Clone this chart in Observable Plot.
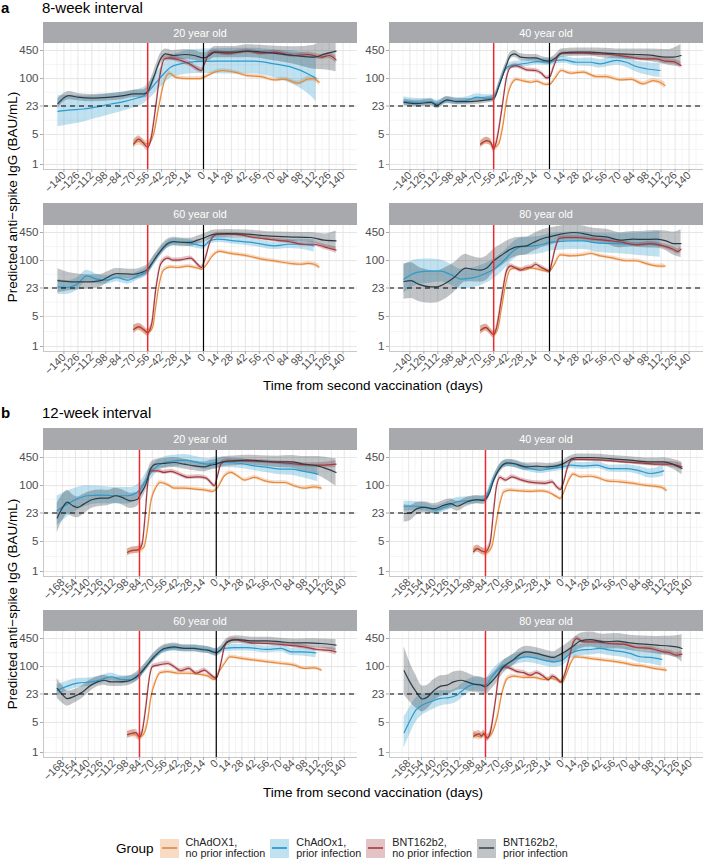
<!DOCTYPE html>
<html><head><meta charset="utf-8">
<script src="https://cdn.jsdelivr.net/npm/d3@7"></script>
<script src="https://cdn.jsdelivr.net/npm/@observablehq/plot@0.6"></script>
<style>
body{margin:0;background:#fff;font-family:"Liberation Sans",Arial,sans-serif;}
#root{position:relative;width:704px;height:861px;overflow:hidden;background:#fff;}
.strip{position:absolute;background:#A7A9AC;color:#fff;font-size:10.8px;display:flex;align-items:center;justify-content:center;}
.ttl{position:absolute;white-space:nowrap;color:#000;}
.pan{position:absolute;}
#legend{position:absolute;left:116px;top:836px;height:24px;display:flex;align-items:center;font-size:10.8px;color:#222;}
.key{width:19px;height:19px;position:relative;margin-right:7px;}
.key i{position:absolute;left:2px;right:2px;top:8.5px;height:2px;}
.lab{line-height:11.5px;margin-right:5px;}
</style></head><body><div id="root"></div>
<script>
// ---------- scales / ticks ----------
const ticksA = [-140,-126,-112,-98,-84,-70,-56,-42,-28,-14,0,14,28,42,56,70,84,98,112,126,140];
const minorA = [-147,-133,-119,-105,-91,-77,-63,-49,-35,-21,-7,7,21,35,49,63,77,91,105,119,133,147];
const ticksB = [-168,-154,-140,-126,-112,-98,-84,-70,-56,-42,-28,-14,0,14,28,42,56,70,84,98,112,126,140];
const minorB = [-175,-161,-147,-133,-119,-105,-91,-77,-63,-49,-35,-21,-7,7,21,35,49,63,77,91,105,119,133,147];
const yTicks = [1,5,23,100,450];
const yMinor = [2.236,10.72,47.96,212.1];
const groups = ["chadNo","chadPrior","bntNo","bntPrior"];
const groupLabels = [["ChAdOX1,","no prior infection"],["ChAdOx1,","prior infection"],["BNT162b2,","no prior infection"],["BNT162b2,","prior infection"]];
const ages = ["20 year old","40 year old","60 year old","80 year old"];

// ---------- data: [day, predicted IgG, CI factor] ----------
// 8-week interval
const A20_bntPrior = [[-146,26,1.3],[-140,36,1.25],[-135,40,1.25],[-126,37,1.22],[-112,35,1.22],[-100,36,1.22],[-93,37,1.22],[-80,40,1.22],[-70,44,1.22],[-60,44,1.25],[-56,50,1.3],[-50,107,1.35],[-43,288,1.35],[-38,377,1.3],[-30,344,1.3],[-19,363,1.3],[-9,344,1.3],[0,303,1.3],[6,344,1.3],[11,412,1.35],[31,412,1.35],[44,435,1.4],[64,400,1.45],[91,344,1.6],[111,315,1.9],[121,370,2.3],[133,435,3.0]];
const A20_chadPrior = [[-146,17.3,2.3],[-135,18.5,2.2],[-120,19.6,2.0],[-107,22,1.85],[-93,25.6,1.75],[-80,29,1.65],[-70,33.5,1.6],[-60,40,1.55],[-53,57,1.6],[-43,107,1.7],[-33,184,1.8],[-23,220,1.85],[-9,249,1.9],[11,254,1.95],[31,254,2.0],[51,254,2.0],[71,220,2.1],[88,184,2.4],[105,128,2.9],[113,100,3.4]];
const A20_bntNo = [[-70,3.0,1.2],[-65,3.9,1.2],[-61,3.3,1.2],[-56,2.5,1.2],[-53,3.6,1.2],[-48,21,1.25],[-44,107,1.2],[-39,288,1.15],[-33,303,1.15],[-23,264,1.15],[-14,220,1.15],[-6,168,1.15],[-2,154,1.15],[1,220,1.15],[6,377,1.12],[11,412,1.12],[24,380,1.12],[44,435,1.12],[58,390,1.12],[71,412,1.12],[91,344,1.12],[105,363,1.15],[118,315,1.15],[126,344,1.18],[133,273,1.2]];
const A20_chadNo = [[-70,3.0,1.25],[-65,3.5,1.25],[-56,3.0,1.2],[-50,5.1,1.2],[-45,21,1.2],[-40,75,1.15],[-34,133,1.12],[-28,107,1.1],[-16,100,1.1],[-3,100,1.1],[2,111,1.1],[11,141,1.1],[19,154,1.1],[31,141,1.1],[44,117,1.1],[58,111,1.1],[71,93,1.1],[81,97,1.1],[95,78,1.12],[105,98,1.15],[110,100,1.15],[116,82,1.2]];

const A40_bntPrior = [[-146,28,1.2],[-133,26,1.2],[-119,28,1.2],[-113,24,1.2],[-103,32,1.2],[-93,29,1.18],[-83,29,1.18],[-73,30,1.18],[-63,32,1.18],[-56,34,1.2],[-50,75,1.25],[-44,184,1.25],[-39,344,1.2],[-35,377,1.2],[-29,315,1.2],[-21,303,1.2],[-14,303,1.2],[-6,264,1.2],[0,254,1.2],[6,303,1.2],[12,390,1.25],[27,412,1.25],[41,412,1.25],[54,390,1.3],[67,377,1.3],[87,363,1.35],[101,350,1.4],[117,315,1.5],[124,315,1.6],[132,344,1.8]];
const A40_chadPrior = [[-146,30,1.25],[-133,28,1.22],[-119,29,1.2],[-113,26,1.2],[-103,31,1.2],[-93,30,1.2],[-83,31,1.2],[-73,37,1.2],[-63,35,1.2],[-56,36,1.2],[-50,75,1.22],[-44,169,1.2],[-39,201,1.2],[-33,210,1.2],[-23,227,1.2],[-13,249,1.2],[0,240,1.2],[7,264,1.2],[14,272,1.2],[27,240,1.22],[41,240,1.25],[51,220,1.25],[67,264,1.3],[77,240,1.3],[87,191,1.35],[97,169,1.4],[111,154,1.45]];
const A40_bntNo = [[-69,3.0,1.2],[-63,3.6,1.2],[-59,3.3,1.2],[-56,2.3,1.2],[-53,3.6,1.2],[-48,18,1.2],[-43,108,1.15],[-39,184,1.12],[-34,201,1.12],[-29,184,1.12],[-23,160,1.12],[-14,154,1.12],[-8,133,1.12],[-3,104,1.12],[0,107,1.12],[4,184,1.12],[9,344,1.1],[14,390,1.1],[34,390,1.1],[47,377,1.1],[61,363,1.1],[81,315,1.12],[94,288,1.12],[107,288,1.12],[116,254,1.15],[124,249,1.15],[132,201,1.2]];
const A40_chadNo = [[-69,2.9,1.2],[-63,3.6,1.2],[-59,3.2,1.2],[-56,2.5,1.2],[-51,3.0,1.2],[-47,7.4,1.2],[-43,31,1.15],[-38,75,1.12],[-33,96,1.1],[-28,90,1.1],[-19,82,1.1],[-13,87,1.1],[-4,73,1.1],[0,73,1.1],[5,98,1.1],[12,154,1.1],[21,133,1.1],[34,141,1.1],[47,111,1.1],[57,111,1.1],[71,93,1.1],[82,96,1.1],[94,75,1.12],[104,90,1.12],[111,82,1.15],[116,69,1.2]];

const A60_bntPrior = [[-146,34,1.9],[-133,32,1.6],[-113,32,1.45],[-103,34,1.4],[-97,40,1.35],[-87,50,1.3],[-70,48,1.3],[-63,52,1.3],[-56,63,1.3],[-50,99,1.3],[-43,169,1.3],[-36,249,1.28],[-30,278,1.25],[-21,264,1.25],[-13,264,1.25],[-6,298,1.25],[0,331,1.25],[11,412,1.25],[24,424,1.25],[44,412,1.25],[64,377,1.25],[85,357,1.28],[108,344,1.3],[121,298,1.4],[133,288,1.7]];
const A60_chadPrior = [[-146,24.5,1.5],[-137,23.6,1.45],[-127,28,1.4],[-117,44,1.35],[-107,37,1.3],[-97,35,1.25],[-87,40,1.25],[-76,35,1.25],[-66,44,1.25],[-56,58,1.25],[-50,99,1.25],[-43,164,1.22],[-36,240,1.2],[-30,270,1.2],[-20,264,1.2],[-9,240,1.2],[0,220,1.2],[6,288,1.2],[14,315,1.2],[31,288,1.2],[51,259,1.22],[71,220,1.22],[85,240,1.25],[98,240,1.3],[111,220,1.4]];
const A60_bntNo = [[-70,2.5,1.25],[-65,2.9,1.2],[-60,2.5,1.2],[-56,2.1,1.2],[-52,3.3,1.2],[-48,20,1.2],[-43,82,1.15],[-36,114,1.12],[-30,102,1.12],[-23,104,1.12],[-13,114,1.12],[-6,82,1.12],[-2,69,1.12],[1,99,1.12],[7,288,1.1],[14,412,1.1],[31,412,1.1],[51,344,1.1],[64,315,1.1],[85,278,1.12],[101,240,1.12],[111,240,1.12],[121,209,1.15],[126,194,1.15],[133,175,1.2]];
const A60_chadNo = [[-70,2.5,1.25],[-65,2.8,1.2],[-56,2.1,1.2],[-51,2.8,1.2],[-48,8.1,1.2],[-45,23.6,1.15],[-40,60,1.12],[-33,71,1.1],[-26,69,1.1],[-16,74,1.1],[-6,67,1.1],[-2,63,1.1],[2,75,1.1],[9,129,1.1],[16,163,1.1],[27,147,1.1],[44,129,1.1],[58,108,1.1],[71,98,1.1],[88,85,1.1],[98,82,1.1],[105,86,1.1],[111,82,1.12],[116,71,1.15]];

const A80_bntPrior = [[-146,32.6,2.6],[-139,34,2.6],[-131,28,2.5],[-119,24.5,2.4],[-113,24.5,2.35],[-103,30.8,2.3],[-96,40,2.2],[-84,67,2.1],[-79,64,2.0],[-69,60,1.9],[-63,67,1.9],[-56,99,1.85],[-49,129,1.8],[-39,184,1.7],[-33,209,1.65],[-23,220,1.6],[-16,264,1.6],[-6,331,1.6],[0,357,1.6],[11,412,1.55],[24,450,1.55],[34,424,1.5],[44,377,1.5],[57,357,1.5],[71,298,1.5],[84,315,1.5],[94,310,1.55],[107,315,1.6],[117,288,1.7],[124,249,1.85],[132,249,2.1]];
const A80_chadPrior = [[-146,37,2.1],[-133,53,2.0],[-119,57,1.9],[-109,57,1.8],[-99,47,1.75],[-89,37,1.7],[-76,40,1.7],[-66,48,1.7],[-56,63,1.7],[-46,99,1.65],[-36,169,1.6],[-29,209,1.6],[-16,220,1.6],[-6,240,1.6],[0,264,1.6],[11,278,1.6],[21,288,1.6],[34,288,1.6],[47,259,1.65],[67,249,1.7],[87,240,1.8],[111,240,2.0]];
const A80_bntNo = [[-69,2.4,1.25],[-64,2.8,1.2],[-60,2.3,1.2],[-56,1.9,1.2],[-53,2.8,1.2],[-48,13.8,1.2],[-43,58,1.15],[-39,75,1.12],[-34,67,1.12],[-29,60,1.12],[-24,67,1.12],[-18,71,1.12],[-14,82,1.12],[-9,71,1.12],[-3,60,1.12],[0,56,1.12],[2,82,1.12],[6,201,1.12],[10,331,1.1],[17,344,1.1],[27,344,1.1],[44,315,1.1],[61,288,1.1],[74,264,1.1],[87,232,1.12],[101,249,1.12],[114,220,1.12],[124,184,1.15],[129,163,1.15],[132,184,1.2]];
const A80_chadNo = [[-69,2.4,1.25],[-63,2.7,1.2],[-56,1.9,1.2],[-52,2.5,1.2],[-48,8.1,1.2],[-44,28,1.15],[-39,63,1.12],[-33,67,1.1],[-26,60,1.1],[-18,67,1.1],[-8,60,1.1],[0,56,1.1],[4,75,1.1],[11,136,1.1],[21,129,1.1],[34,136,1.1],[41,146,1.1],[51,129,1.1],[64,114,1.1],[77,99,1.1],[87,99,1.1],[97,85,1.1],[107,75,1.1],[116,74,1.12]];

// 12-week interval
const B20_bntPrior = [[-174,17.6,2.2],[-168,31,2.0],[-163,41,1.9],[-157,34,1.8],[-152,31,1.75],[-145,37,1.7],[-137,46,1.6],[-126,51,1.55],[-119,51,1.5],[-110,58,1.5],[-103,53,1.5],[-94,44,1.5],[-86,48,1.45],[-83,63,1.45],[-77,108,1.4],[-72,241,1.35],[-66,315,1.3],[-57,330,1.3],[-46,344,1.3],[-35,315,1.3],[-24,288,1.3],[-13,273,1.3],[-6,298,1.3],[0,315,1.3],[7,357,1.3],[20,377,1.3],[34,390,1.3],[49,377,1.32],[67,357,1.35],[82,357,1.4],[96,315,1.5],[111,288,1.65],[122,241,1.85],[131,202,2.1]];
const B20_chadPrior = [[-174,26,2.2],[-163,37,2.0],[-152,49,1.85],[-141,58,1.7],[-126,60,1.6],[-112,58,1.55],[-97,58,1.55],[-90,63,1.5],[-83,83,1.5],[-75,155,1.45],[-68,241,1.4],[-57,344,1.35],[-46,377,1.35],[-35,390,1.35],[-24,357,1.35],[-9,315,1.35],[0,344,1.35],[12,344,1.3],[27,326,1.3],[42,288,1.3],[56,264,1.32],[71,241,1.35],[82,241,1.38],[96,213,1.42],[111,184,1.5]];
const B20_bntNo = [[-97,2.8,1.2],[-92,3.1,1.2],[-86,3.2,1.2],[-84,3.4,1.2],[-81,4.4,1.2],[-78,18,1.2],[-75,108,1.15],[-72,220,1.12],[-64,220,1.12],[-57,202,1.12],[-50,213,1.12],[-39,178,1.12],[-31,155,1.12],[-20,160,1.12],[-11,149,1.12],[-6,118,1.12],[-2,99,1.12],[1,155,1.12],[5,315,1.12],[11,377,1.1],[27,377,1.1],[49,363,1.1],[67,344,1.1],[82,326,1.12],[100,302,1.12],[115,298,1.15],[131,315,1.2]];
const B20_chadNo = [[-97,2.8,1.2],[-90,3.1,1.2],[-84,3.2,1.2],[-79,3.7,1.2],[-75,10.7,1.2],[-72,37,1.15],[-66,90,1.12],[-61,118,1.1],[-53,104,1.1],[-46,87,1.1],[-35,87,1.1],[-24,83,1.1],[-13,79,1.1],[-4,73,1.1],[1,87,1.1],[9,169,1.1],[16,202,1.1],[23,169,1.1],[31,134,1.1],[42,155,1.1],[53,129,1.1],[64,118,1.1],[75,118,1.1],[85,99,1.1],[96,87,1.1],[107,93,1.12],[115,87,1.15]];

const B40_bntPrior = [[-173,22.4,1.6],[-166,23,1.5],[-159,29,1.4],[-151,31,1.35],[-140,29,1.3],[-129,35,1.3],[-122,38,1.3],[-115,33,1.3],[-104,42,1.28],[-93,47,1.25],[-86,45,1.25],[-80,65,1.25],[-75,134,1.25],[-67,273,1.25],[-60,338,1.22],[-53,326,1.22],[-39,273,1.22],[-28,283,1.2],[-17,273,1.2],[-9,280,1.2],[0,315,1.2],[9,405,1.2],[16,450,1.2],[31,450,1.2],[52,426,1.2],[74,390,1.2],[96,357,1.22],[111,357,1.25],[121,315,1.3],[131,249,1.4]];
const B40_chadPrior = [[-173,33,1.3],[-159,33,1.28],[-148,31,1.25],[-140,27,1.25],[-126,33,1.25],[-115,42,1.25],[-100,45,1.22],[-89,47,1.22],[-84,50,1.22],[-79,93,1.2],[-71,209,1.2],[-64,315,1.2],[-57,326,1.2],[-46,283,1.2],[-35,249,1.2],[-24,228,1.2],[-13,249,1.2],[0,273,1.2],[9,298,1.2],[23,283,1.2],[38,298,1.2],[52,249,1.2],[71,249,1.22],[85,220,1.25],[96,191,1.28],[111,220,1.35]];
const B40_bntNo = [[-97,2.9,1.2],[-93,3.4,1.2],[-88,3.0,1.2],[-84,2.9,1.2],[-79,4.5,1.2],[-75,27,1.2],[-72,93,1.15],[-68,154,1.12],[-62,134,1.12],[-55,160,1.12],[-46,138,1.12],[-37,122,1.12],[-28,115,1.12],[-19,112,1.12],[-11,122,1.12],[-6,93,1.12],[-2,81,1.12],[1,112,1.12],[6,273,1.1],[11,405,1.1],[23,405,1.1],[45,390,1.1],[67,357,1.1],[85,338,1.12],[103,315,1.12],[118,315,1.15],[131,273,1.2]];
const B40_chadNo = [[-97,3.3,1.2],[-93,3.4,1.2],[-88,3.0,1.2],[-84,2.7,1.2],[-77,3.8,1.2],[-73,11,1.2],[-69,32,1.15],[-64,71,1.12],[-57,78,1.1],[-46,75,1.1],[-35,73,1.1],[-24,75,1.1],[-15,70,1.1],[-6,55,1.1],[-2,50,1.1],[1,65,1.1],[7,134,1.1],[12,184,1.1],[20,160,1.1],[31,165,1.1],[38,154,1.1],[49,129,1.1],[63,122,1.1],[78,112,1.1],[89,102,1.1],[100,97,1.1],[109,90,1.12],[114,78,1.15]];

const B60_bntPrior = [[-174,31,1.7],[-168,22,1.6],[-163,18,1.5],[-156,20,1.45],[-146,26,1.4],[-137,37,1.35],[-130,44,1.3],[-123,48,1.3],[-115,44,1.28],[-108,44,1.28],[-97,46,1.28],[-90,53,1.28],[-84,67,1.28],[-77,99,1.25],[-68,169,1.25],[-57,264,1.22],[-46,288,1.22],[-35,264,1.2],[-24,264,1.2],[-17,250,1.2],[-9,241,1.2],[0,209,1.22],[5,250,1.22],[12,376,1.22],[23,426,1.22],[38,397,1.22],[56,397,1.22],[71,376,1.22],[85,357,1.22],[100,357,1.25],[115,344,1.28],[131,315,1.35]];
const B60_chadPrior = [[-174,28,1.35],[-163,35,1.3],[-152,41,1.28],[-137,44,1.25],[-126,50,1.22],[-115,58,1.22],[-104,50,1.22],[-94,50,1.22],[-84,63,1.22],[-77,99,1.2],[-68,169,1.2],[-57,250,1.2],[-46,277,1.2],[-35,264,1.2],[-24,264,1.2],[-9,241,1.2],[0,220,1.2],[9,264,1.2],[20,277,1.2],[34,277,1.2],[56,250,1.2],[71,264,1.2],[82,220,1.22],[93,220,1.25],[109,209,1.3]];
const B60_bntNo = [[-97,2.6,1.2],[-92,2.8,1.2],[-88,2.9,1.2],[-84,2.3,1.2],[-81,3.1,1.2],[-77,11.7,1.2],[-73,58,1.15],[-70,99,1.12],[-64,108,1.12],[-53,118,1.12],[-46,99,1.12],[-39,80,1.12],[-30,91,1.12],[-22,70,1.12],[-13,83,1.12],[-7,67,1.12],[0,53,1.12],[5,118,1.1],[9,288,1.1],[14,397,1.1],[20,426,1.1],[38,357,1.1],[56,344,1.1],[78,315,1.1],[96,288,1.12],[111,250,1.12],[122,241,1.15],[131,220,1.2]];
const B60_chadNo = [[-97,2.6,1.2],[-92,2.8,1.2],[-84,2.3,1.2],[-79,2.8,1.2],[-75,5.7,1.2],[-72,16.7,1.15],[-66,49,1.12],[-61,72,1.1],[-53,76,1.1],[-42,70,1.1],[-31,70,1.1],[-20,67,1.1],[-9,60,1.1],[-2,50,1.1],[3,76,1.1],[9,118,1.1],[15,169,1.1],[27,155,1.1],[42,141,1.1],[56,129,1.1],[71,118,1.1],[85,108,1.1],[96,91,1.1],[107,93,1.1],[115,83,1.12]];

const B80_bntPrior = [[-173,80,3.6],[-168,49,3.0],[-160,26,2.4],[-153,17.6,2.0],[-148,19.2,1.9],[-140,28,1.8],[-133,35,1.75],[-126,37,1.7],[-119,44,1.7],[-111,48,1.65],[-104,44,1.6],[-97,39,1.55],[-89,37,1.55],[-84,34,1.55],[-79,41,1.5],[-71,63,1.45],[-64,99,1.4],[-53,147,1.35],[-46,195,1.35],[-39,220,1.35],[-28,202,1.35],[-17,175,1.35],[-9,163,1.35],[-4,184,1.4],[3,220,1.45],[11,288,1.5],[20,397,1.5],[31,426,1.5],[45,376,1.5],[60,390,1.5],[74,357,1.5],[89,332,1.55],[103,315,1.6],[118,299,1.7],[125,288,1.8],[131,264,2.1]];
const B80_chadPrior = [[-173,2.9,2.3],[-168,4.8,2.1],[-160,9.8,1.9],[-153,12.8,1.75],[-144,15.2,1.6],[-133,18.2,1.5],[-124,18.9,1.45],[-115,21.8,1.45],[-108,29,1.45],[-100,37,1.45],[-93,39,1.45],[-84,37,1.45],[-77,58,1.4],[-69,90,1.35],[-60,118,1.35],[-49,155,1.35],[-39,169,1.35],[-28,155,1.35],[-17,136,1.35],[-9,129,1.35],[0,141,1.35],[9,202,1.35],[20,241,1.35],[31,250,1.35],[41,264,1.35],[52,241,1.35],[67,220,1.35],[74,202,1.35],[85,169,1.38],[96,163,1.4],[109,147,1.45]];
const B80_bntNo = [[-97,2.4,1.2],[-91,2.7,1.2],[-88,2.4,1.2],[-86,2.8,1.2],[-82,2.15,1.2],[-79,2.8,1.2],[-73,16.7,1.2],[-69,69,1.15],[-64,99,1.12],[-57,91,1.12],[-49,76,1.12],[-42,72,1.12],[-35,63,1.12],[-28,72,1.12],[-20,58,1.12],[-15,49,1.12],[-11,60,1.12],[-6,53,1.12],[-2,44,1.12],[1,53,1.12],[7,141,1.12],[12,357,1.12],[16,450,1.12],[23,376,1.1],[38,376,1.1],[52,344,1.1],[67,332,1.1],[81,278,1.1],[96,264,1.12],[111,220,1.12],[118,209,1.15],[125,184,1.15],[131,195,1.2]];
const B80_chadNo = [[-97,2.8,1.2],[-91,2.35,1.2],[-86,2.6,1.2],[-82,2.27,1.2],[-77,2.8,1.2],[-71,6.8,1.2],[-66,24,1.15],[-60,53,1.12],[-53,60,1.1],[-42,56,1.1],[-31,56,1.1],[-20,50,1.1],[-13,53,1.1],[-6,49,1.1],[0,42,1.1],[4,63,1.1],[9,118,1.1],[14,169,1.1],[23,163,1.1],[38,147,1.1],[52,136,1.1],[67,122,1.1],[78,108,1.1],[89,102,1.1],[100,91,1.1],[114,83,1.12]];

// ---------- assembly ----------
const colors = {chadNo:"#E8893A", chadPrior:"#2C9ACD", bntNo:"#A3383E", bntPrior:"#2E3D45"};
const keyLine = {chadNo:"#E39A5E", chadPrior:"#3AA4D2", bntNo:"#B0555A", bntPrior:"#56626A"};
const FONT = '"Liberation Sans", Arial, sans-serif';
const secA = {domain:[-160.5,154.5], ticks:ticksA, minor:minorA, red:-56,
  panels:[{A:A20_chadNo,B:A20_chadPrior,C:A20_bntNo,D:A20_bntPrior},{A:A40_chadNo,B:A40_chadPrior,C:A40_bntNo,D:A40_bntPrior},{A:A60_chadNo,B:A60_chadPrior,C:A60_bntNo,D:A60_bntPrior},{A:A80_chadNo,B:A80_chadPrior,C:A80_bntNo,D:A80_bntPrior}],
  rowTops:[43.3,224.7], label:"a", title:"8-week interval", titleY:8, xTitleY:385, yTitleY:197};
const secB = {domain:[-189,154.5], ticks:ticksB, minor:minorB, red:-84,
  panels:[{A:B20_chadNo,B:B20_chadPrior,C:B20_bntNo,D:B20_bntPrior},{A:B40_chadNo,B:B40_chadPrior,C:B40_bntNo,D:B40_bntPrior},{A:B60_chadNo,B:B60_chadPrior,C:B60_bntNo,D:B60_bntPrior},{A:B80_chadNo,B:B80_chadPrior,C:B80_bntNo,D:B80_bntPrior}],
  rowTops:[449.7,631.3], label:"b", title:"12-week interval", titleY:413, xTitleY:792, yTitleY:604};
const colLefts = [43, 389];
const PW = 314, PH = 126, ML = 32, MB = 36, YMIN = 0.765;
const fmt = d => d < 0 ? "\u2212" + Math.abs(d) : String(d);
const root = document.getElementById("root");

function addText(txt, css){ const d = document.createElement("div"); d.className = "ttl"; d.textContent = txt; Object.assign(d.style, css); root.appendChild(d); return d; }

function panel(sec, i){
  const s = sec.panels[i];
  const arrs = [s.A, s.B, s.C, s.D];
  const data = groups.flatMap((g, k) => arrs[k].map(([x, y, f]) => ({x, y, lo: y / f, hi: y * f, g})));
  const byG = g => data.filter(d => d.g === g);
  const row = Math.floor(i / 2), col = i % 2;
  const top = sec.rowTops[row], left = colLefts[col];
  const x0 = sec.domain[0], perPx = (sec.domain[1] - sec.domain[0]) / PW;
  const svg = Plot.plot({
    width: ML + PW, height: PH + MB,
    marginLeft: ML, marginRight: 0, marginTop: 0, marginBottom: MB,
    style: {background: "transparent", fontFamily: FONT, overflow: "visible"},
    x: {domain: sec.domain},
    y: {type: "log", domain: [YMIN, 655], axis: null},
    marks: [
      Plot.ruleX(sec.minor, {stroke: "#EFEFEF", strokeWidth: 0.6}),
      Plot.ruleY(yMinor, {stroke: "#EFEFEF", strokeWidth: 0.6}),
      Plot.ruleX(sec.ticks, {stroke: "#E0E0E0", strokeWidth: 0.8}),
      Plot.ruleY(yTicks, {stroke: "#E0E0E0", strokeWidth: 0.8}),
      ...groups.map(g => Plot.areaY(byG(g), {x: "x", y1: "lo", y2: "hi", fill: colors[g], fillOpacity: 0.3, curve: "monotone-x", clip: true})),
      ...groups.map(g => Plot.line(byG(g), {x: "x", y: "y", stroke: colors[g], strokeWidth: 1.2, curve: "monotone-x", clip: true})),
      Plot.ruleY([23], {stroke: "#000", strokeWidth: 1.1, strokeDasharray: "5,4"}),
      Plot.ruleX([sec.red], {stroke: "#EA2A2F", strokeWidth: 1.5}),
      Plot.ruleX([0], {stroke: "#000", strokeWidth: 1.2}),
      Plot.ruleX([x0], {stroke: "#C8C8C8", strokeWidth: 1}),
      Plot.ruleY([YMIN], {stroke: "#C8C8C8", strokeWidth: 1}),
      Plot.axisX({ticks: sec.ticks, tickFormat: fmt, tickRotate: -45, tickSize: 3, tickPadding: 1, fontSize: 10.8, stroke: "#AAAAAA", fill: "#4D4D4D", label: null}),
      Plot.ruleY(yTicks, {x1: x0 - 3 * perPx, x2: x0, stroke: "#AAAAAA"}),
      Plot.text(yTicks, {x: x0, y: d => d, text: d => String(d), textAnchor: "end", dx: -5, fontSize: 11.5, fill: "#4D4D4D"})
    ]
  });
  const wrap = document.createElement("div");
  wrap.className = "pan";
  wrap.style.left = (left - ML) + "px";
  wrap.style.top = top + "px";
  wrap.appendChild(svg);
  root.appendChild(wrap);
  const st = document.createElement("div");
  st.className = "strip";
  Object.assign(st.style, {left: left + "px", top: (top - 21.5) + "px", width: PW + "px", height: "21.5px"});
  st.textContent = ages[i];
  root.appendChild(st);
}

for (const sec of [secA, secB]) {
  for (let i = 0; i < 4; i++) panel(sec, i);
  addText(sec.label, {left: "1px", top: (sec.titleY - 9) + "px", fontSize: "15px", fontWeight: "bold", lineHeight: "18px"});
  addText(sec.title, {left: "42px", top: (sec.titleY - 9) + "px", fontSize: "15px", lineHeight: "18px"});
  addText("Time from second vaccination (days)", {left: "373px", top: sec.xTitleY + "px", fontSize: "13.5px", transform: "translate(-50%,-50%)"});
  addText("Predicted anti\u2212spike IgG (BAU/mL)", {left: "12px", top: sec.yTitleY + "px", fontSize: "13.5px", transform: "translate(-50%,-50%) rotate(-90deg)"});
}

// legend
const lg = document.createElement("div");
lg.id = "legend";
const gt = document.createElement("div");
gt.textContent = "Group"; gt.style.fontSize = "13.5px"; gt.style.marginRight = "6px"; gt.style.color = "#000";
lg.appendChild(gt);
groups.forEach((g, k) => {
  const key = document.createElement("div");
  key.className = "key";
  key.style.background = d3.color(colors[g]).copy({opacity: 0.3}).toString();
  const ln = document.createElement("i"); ln.style.background = keyLine[g]; key.appendChild(ln);
  lg.appendChild(key);
  const lab = document.createElement("div");
  lab.className = "lab";
  lab.innerHTML = groupLabels[k][0] + "<br>" + groupLabels[k][1];
  lg.appendChild(lab);
});
root.appendChild(lg);
</script></body></html>
